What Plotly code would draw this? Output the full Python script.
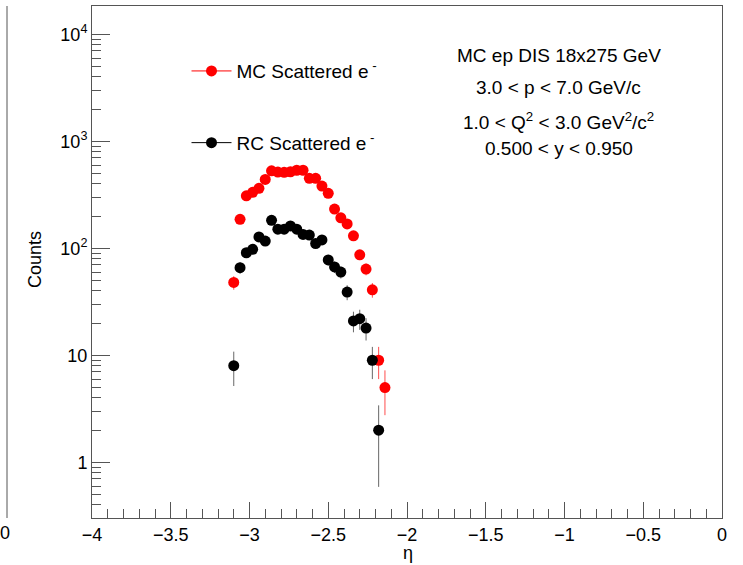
import plotly.graph_objects as go

# ---- data ----
eta_mc = [-3.10, -3.06, -3.02, -2.98, -2.94, -2.90, -2.86, -2.82, -2.78, -2.74,
          -2.70, -2.66, -2.62, -2.58, -2.54, -2.50, -2.46, -2.42, -2.38, -2.34,
          -2.30, -2.26, -2.22, -2.18, -2.14]
counts_mc = [48, 187, 310, 334, 364, 441, 531, 516, 514, 520,
             537, 537, 451, 451, 382, 327, 233, 193, 169, 131,
             87, 64, 41, 9, 5]
err_mc = [6.93, 13.67, 17.61, 18.28, 19.08, 21.00, 23.04, 22.72, 22.67, 22.80,
          23.17, 23.17, 21.24, 21.24, 19.54, 18.08, 15.26, 13.89, 13.00, 11.45,
          9.33, 8.00, 6.40, 3.00, 2.24]

eta_rc = [-3.10, -3.06, -3.02, -2.98, -2.94, -2.90, -2.86, -2.82, -2.78, -2.74,
          -2.70, -2.66, -2.62, -2.58, -2.54, -2.50, -2.46, -2.42, -2.38, -2.34,
          -2.30, -2.26, -2.22, -2.18]
counts_rc = [8, 66, 91, 98, 128, 117, 183, 151, 151, 162,
             151, 135, 133, 111, 120, 78, 67, 60, 39, 21,
             22, 18, 9, 2]
err_rc = [2.83, 8.12, 9.54, 9.90, 11.31, 10.82, 13.53, 12.29, 12.29, 12.73,
          12.29, 11.62, 11.53, 10.54, 10.95, 8.83, 8.19, 7.75, 6.24, 4.58,
          4.69, 4.24, 3.00, 1.41]

x_ticks = [-4, -3.5, -3, -2.5, -2, -1.5, -1, -0.5, 0]
x_ticktext = ["\u22124", "\u22123.5", "\u22123", "\u22122.5", "\u22122", "\u22121.5", "\u22121", "\u22120.5", "0"]
y_ticks = [1, 10, 100, 1000, 10000]
y_ticktext = ["1", "10", "10<sup>2</sup>", "10<sup>3</sup>", "10<sup>4</sup>"]

info_lines = ["MC ep DIS 18x275 GeV",
              "3.0 < p < 7.0 GeV/c",
              "1.0 < Q<sup>2</sup> < 3.0 GeV<sup>2</sup>/c<sup>2</sup>",
              "0.500 < y < 0.950"]

FONT = "Liberation Sans, Arial, Helvetica, sans-serif"
AX = "#555555"

fig = go.Figure()

fig.add_trace(go.Scatter(
    x=eta_mc, y=counts_mc, mode="markers", showlegend=False,
    marker=dict(color="#ff0000", size=11),
    error_y=dict(type="data", array=err_mc, color="rgba(255,0,0,0.7)", thickness=1, width=0),
))
fig.add_trace(go.Scatter(
    x=eta_rc, y=counts_rc, mode="markers", showlegend=False,
    marker=dict(color="#000000", size=11),
    error_y=dict(type="data", array=err_rc, color="rgba(0,0,0,0.6)", thickness=1, width=0),
))
# legend entries (line + marker, as in the original legend)
fig.add_trace(go.Scatter(
    x=[None], y=[None], mode="lines+markers", name="MC Scattered e<sup> -</sup>",
    legendgroup="mc", line=dict(color="#ff0000", width=1),
    marker=dict(color="#ff0000", size=11),
))
fig.add_trace(go.Scatter(
    x=[None], y=[None], mode="lines+markers", name="RC Scattered e<sup> -</sup>",
    legendgroup="rc", line=dict(color="#000000", width=1),
    marker=dict(color="#000000", size=11),
))

annotations = []
ys = [0.904, 0.840, 0.776, 0.721]
for t, yy in zip(info_lines, ys):
    annotations.append(dict(text=t, x=0.741, y=yy, xref="paper", yref="paper",
                            showarrow=False, xanchor="center", yanchor="middle",
                            font=dict(size=19, color="#000", family=FONT)))
annotations.append(dict(text="Counts", x=-0.0905, y=0.506, xref="paper", yref="paper",
                        showarrow=False, textangle=-90, xanchor="center", yanchor="middle",
                        font=dict(size=18, color="#000", family=FONT)))
annotations.append(dict(text="\u03b7", x=0.501, y=-0.069, xref="paper", yref="paper",
                        showarrow=False, xanchor="center", yanchor="middle",
                        font=dict(size=18, color="#000", family=FONT)))
annotations.append(dict(text="0", x=-0.138, y=-0.029, xref="paper", yref="paper",
                        showarrow=False, xanchor="center", yanchor="middle",
                        font=dict(size=18, color="#000", family=FONT)))

fig.update_layout(
    width=743, height=565,
    margin=dict(l=92, r=21, t=6, b=47),
    paper_bgcolor="white", plot_bgcolor="white",
    font=dict(family=FONT, color="#000"),
    showlegend=True,
    legend=dict(x=0.150, y=0.91, xanchor="left", yanchor="top",
                bgcolor="rgba(255,255,255,0)", font=dict(size=19, family=FONT),
                tracegroupgap=44, itemwidth=40),
    annotations=annotations,
    shapes=[dict(type="line", xref="paper", yref="paper",
                 x0=-0.1349, x1=-0.1349, y0=0.0, y1=1.0,
                 line=dict(color=AX, width=1))],
)

fig.update_xaxes(
    range=[-4, 0], tickmode="array", tickvals=x_ticks, ticktext=x_ticktext,
    ticks="inside", ticklen=16, tickcolor=AX, tickwidth=1,
    minor=dict(dtick=0.1, ticks="inside", ticklen=9, tickcolor=AX, showgrid=False),
    showline=True, linecolor=AX, linewidth=1, mirror=True,
    showgrid=False, zeroline=False,
    tickfont=dict(size=18, family=FONT, color="#000"),
)
fig.update_yaxes(
    type="log", range=[-0.52, 4.265], tickmode="array", tickvals=y_ticks, ticktext=y_ticktext,
    ticks="inside", ticklen=18, tickcolor=AX, tickwidth=1,
    minor=dict(dtick="D1", ticks="inside", ticklen=9, tickcolor=AX, showgrid=False),
    showline=True, linecolor=AX, linewidth=1, mirror=True,
    showgrid=False, zeroline=False,
    tickfont=dict(size=18, family=FONT, color="#000"),
)

fig.write_html("out.html")
